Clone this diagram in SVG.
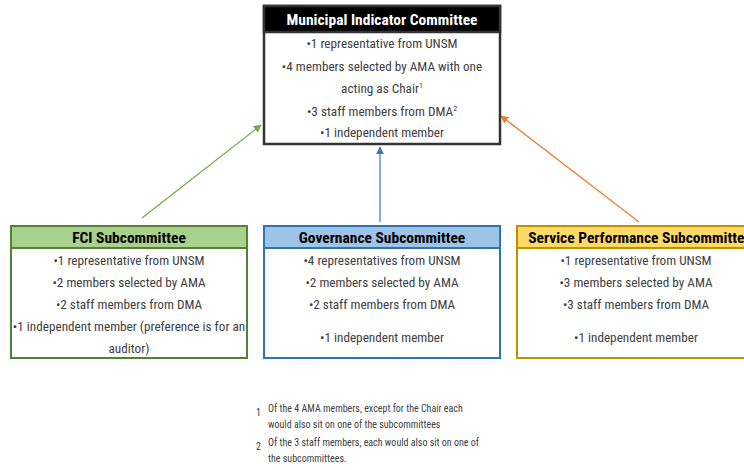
<svg xmlns="http://www.w3.org/2000/svg" width="744" height="470" viewBox="0 0 744 470">
  <defs>
    <style>
      .t { font-family: "Roboto Condensed", "DejaVu Sans Condensed", "Roboto", sans-serif; font-size: 13.2px; fill: #404040; text-anchor: middle; }
      .h { font-family: "Roboto Condensed", "DejaVu Sans Condensed", "Roboto", sans-serif; font-size: 15.5px; font-weight: bold; text-anchor: middle; }
      .fn { font-family: "Roboto Condensed", "DejaVu Sans Condensed", "Roboto", sans-serif; font-size: 10px; fill: #404040; }
      .sup { font-size: 8px; }
    </style>
    <marker id="ahG" viewBox="0 0 10 10" refX="9" refY="5" markerWidth="8" markerHeight="8" orient="auto" markerUnits="userSpaceOnUse"><path d="M0,0 L10,5 L0,10 z" fill="#70AD47"/></marker>
    <marker id="ahB" viewBox="0 0 10 10" refX="9" refY="5" markerWidth="8" markerHeight="8" orient="auto" markerUnits="userSpaceOnUse"><path d="M0,0 L10,5 L0,10 z" fill="#4472C4"/></marker>
    <marker id="ahO" viewBox="0 0 10 10" refX="9" refY="5" markerWidth="8" markerHeight="8" orient="auto" markerUnits="userSpaceOnUse"><path d="M0,0 L10,5 L0,10 z" fill="#ED7D31"/></marker>
  </defs>

  <rect width="744" height="470" fill="#ffffff"/>

  <!-- connectors: each subcommittee reports up to the main committee -->
  <g id="connectors" fill="none" stroke-width="1.2">
    <line x1="142" y1="218" x2="261" y2="125" stroke="#70AD47" marker-end="url(#ahG)"/>
    <line x1="380" y1="222" x2="380" y2="147" stroke="#4472C4" marker-end="url(#ahB)"/>
    <line x1="639" y1="222" x2="501" y2="116" stroke="#ED7D31" marker-end="url(#ahO)"/>
  </g>

  <!-- main committee -->
  <g id="municipal-indicator-committee">
    <rect x="264" y="6" width="236" height="138" fill="#ffffff" stroke="#333333" stroke-width="2.5"/>
    <rect x="264" y="6" width="236" height="26" fill="#000000" stroke="#333333" stroke-width="2.5"/>
    <text class="h" x="382" y="24.5" fill="#ffffff">Municipal Indicator Committee</text>
    <text class="t" x="382" y="48">•1 representative from UNSM</text>
    <text class="t" x="382" y="71">•4 members selected by AMA with one</text>
    <text class="t" x="382" y="93">acting as Chair<tspan class="sup" dy="-5">1</tspan></text>
    <text class="t" x="382" y="116">•3 staff members from DMA<tspan class="sup" dy="-5">2</tspan></text>
    <text class="t" x="382" y="137">•1 independent member</text>
  </g>

  <!-- FCI subcommittee -->
  <g id="fci-subcommittee">
    <rect x="11" y="226" width="236" height="132" fill="#ffffff" stroke="#538135" stroke-width="2"/>
    <rect x="11" y="226" width="236" height="22" fill="#A9D18E" stroke="#538135" stroke-width="2"/>
    <text class="h" x="129" y="242.5" fill="#000000">FCI Subcommittee</text>
    <text class="t" x="129" y="265">•1 representative  from UNSM</text>
    <text class="t" x="129" y="287">•2 members selected by AMA</text>
    <text class="t" x="129" y="309">•2 staff members from DMA</text>
    <text class="t" x="129" y="331">•1 independent member (preference is for an</text>
    <text class="t" x="129" y="353">auditor)</text>
  </g>

  <!-- Governance subcommittee -->
  <g id="governance-subcommittee">
    <rect x="264" y="226" width="236" height="132" fill="#ffffff" stroke="#2E75B6" stroke-width="2"/>
    <rect x="264" y="226" width="236" height="22" fill="#9DC3E6" stroke="#2E75B6" stroke-width="2"/>
    <text class="h" x="382" y="242.5" fill="#000000">Governance Subcommittee</text>
    <text class="t" x="382" y="265">•4 representatives  from UNSM</text>
    <text class="t" x="382" y="287">•2 members selected by AMA</text>
    <text class="t" x="382" y="309">•2 staff members from DMA</text>
    <text class="t" x="382" y="342">•1 independent member</text>
  </g>

  <!-- Service Performance subcommittee (runs past the right edge) -->
  <g id="service-performance-subcommittee">
    <rect x="517" y="226" width="236" height="132" fill="#ffffff" stroke="#BF9000" stroke-width="2"/>
    <rect x="517" y="226" width="236" height="22" fill="#FFD966" stroke="#BF9000" stroke-width="2"/>
    <text class="h" x="640" y="242.5" fill="#000000">Service Performance Subcommittee</text>
    <text class="t" x="636" y="265">•1 representative from UNSM</text>
    <text class="t" x="636" y="287">•3 members selected by AMA</text>
    <text class="t" x="636" y="309">•3 staff members from DMA</text>
    <text class="t" x="636" y="342">•1 independent member</text>
  </g>

  <!-- footnotes -->
  <g id="footnotes">
    <text class="fn" x="256" y="416" font-size="8">1</text>
    <text class="fn" x="256" y="450" font-size="8">2</text>
    <text class="fn" x="268" y="412">Of the 4 AMA members, except for the Chair each</text>
    <text class="fn" x="268" y="428">would also sit on one of the subcommittees</text>
    <text class="fn" x="268" y="446">Of the 3 staff members,  each would also sit on one of</text>
    <text class="fn" x="268" y="462">the subcommittees.</text>
  </g>
</svg>
